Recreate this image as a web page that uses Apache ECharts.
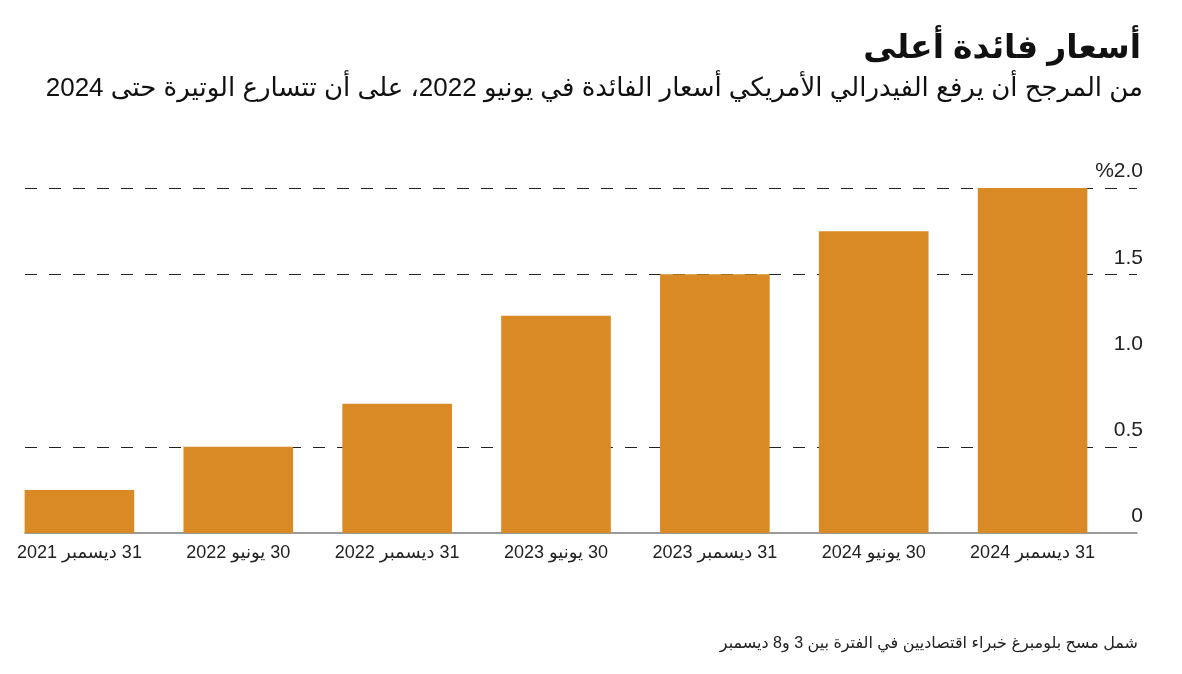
<!DOCTYPE html>
<html>
<head>
<meta charset="utf-8">
<script src="https://cdn.jsdelivr.net/npm/echarts@6/dist/echarts.min.js"></script>
<style>
  html, body { margin: 0; padding: 0; background: #fff; }
  #chart { width: 1182px; height: 674px; direction: rtl; }
</style>
</head>
<body>
<div id="chart" dir="rtl"></div>
<script>
const titleText = 'أسعار فائدة أعلى';
const subtitleText = 'من المرجح أن يرفع الفيدرالي الأمريكي أسعار الفائدة في يونيو 2022، على أن تتسارع الوتيرة حتى 2024';
const noteText = 'شمل مسح بلومبرغ خبراء اقتصاديين في الفترة بين 3 و8 ديسمبر';
const categories = ['31 ديسمبر 2021', '30 يونيو 2022', '31 ديسمبر 2022', '30 يونيو 2023', '31 ديسمبر 2023', '30 يونيو 2024', '31 ديسمبر 2024'];
const rateValues = [0.25, 0.5, 0.75, 1.26, 1.5, 1.75, 2.0];
const yTicks = [0, 0.5, 1.0, 1.5, 2.0];
const yTickLabels = ['0', '0.5', '1.0', '1.5', '%2.0'];

const FONT = '"Liberation Sans", "DejaVu Sans", sans-serif';
const chart = echarts.init(document.getElementById('chart'), null, { renderer: 'canvas' });

const option = {
  backgroundColor: '#ffffff',
  animation: false,
  textStyle: { fontFamily: FONT },
  title: [
    { text: titleText, right: 36, top: 27,
      textStyle: { fontFamily: FONT, fontSize: 33, fontWeight: 'bold', color: '#111' } },
    { text: subtitleText, right: 34, top: 71,
      textStyle: { fontFamily: FONT, fontSize: 26, fontWeight: 'normal', color: '#111' } },
    { text: noteText, right: 39, top: 631,
      textStyle: { fontFamily: FONT, fontSize: 16, fontWeight: 'normal', color: '#222' } }
  ],
  grid: [
    { left: 25, right: 45, top: 188, bottom: 141 },
    { left: 0, right: 70, top: 188, bottom: 141 }
  ],
  xAxis: [
    { gridIndex: 0, type: 'value', min: 0, max: 1, show: true,
      axisLine: { show: true, lineStyle: { color: '#7a7a7a', width: 1.5 } },
      axisTick: { show: false }, axisLabel: { show: false }, splitLine: { show: false } },
    { gridIndex: 1, type: 'category', data: categories,
      axisLine: { show: false }, axisTick: { show: false },
      axisLabel: { show: true, interval: 0, margin: 11, fontSize: 18, color: '#222', fontFamily: FONT } }
  ],
  yAxis: [
    { gridIndex: 0, type: 'value', position: 'right', min: 0, max: 2, interval: 0.5,
      axisLine: { show: false }, axisTick: { show: false },
      axisLabel: { inside: true, align: 'right', verticalAlign: 'bottom', margin: -6,
        padding: [0, 0, 6, 0], fontSize: 21, color: '#222', fontFamily: FONT,
        formatter: function (v) { const i = yTicks.indexOf(v); return i >= 0 ? yTickLabels[i] : ''; } },
      splitLine: { show: true, lineStyle: { type: [12, 12], width: 1,
        color: ['rgba(0,0,0,0)', '#222', 'rgba(0,0,0,0)', '#222', '#222'] } }
    },
    { gridIndex: 1, type: 'value', min: 0, max: 2, interval: 0.5, show: false }
  ],
  series: [
    { type: 'bar', xAxisIndex: 1, yAxisIndex: 1, data: rateValues,
      barCategoryGap: '31%', itemStyle: { color: '#DA8A25' }, z: 1 }
  ]
};
chart.setOption(option);
</script>
</body>
</html>
